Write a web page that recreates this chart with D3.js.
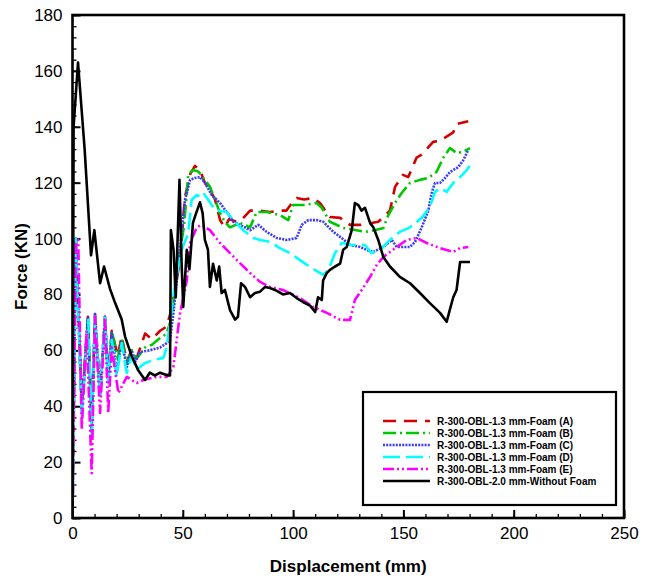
<!DOCTYPE html>
<html><head><meta charset="utf-8">
<script src="https://cdn.jsdelivr.net/npm/d3@7"></script>
<style>body{margin:0;background:#fff}svg{display:block}text{font-family:"Liberation Sans",Arial,sans-serif}</style>
</head><body><svg id="c" width="654" height="580"></svg>
<script>
const xTicks = [0,50,100,150,200,250];
const yTicks = [0,20,40,60,80,100,120,140,160,180];
const seriesNames = ["R-300-OBL-1.3 mm-Foam (A)","R-300-OBL-1.3 mm-Foam (B)","R-300-OBL-1.3 mm-Foam (C)","R-300-OBL-1.3 mm-Foam (D)","R-300-OBL-1.3 mm-Foam (E)","R-300-OBL-2.0 mm-Without Foam"];

const xA = [0,1.5,4.2,7,8.7,10.2,12.5,14.7,16.2,17.8,20.5,22.3,24.6,26.8,29,32.9,36,39.7,42.7,45,48.7,51,53.3,55.5,57.8,60,62.3,64.6,66.9,69,71,74.4,77,80.5,85,89.5,94,97,99.4,101.6,105,109,112.2,116.7,121.3,125.8,130.4,135.6,138.6,143.9,146.2,149.8,152.2,156,158.3,163.5,166.6,172.6,174.1,179.4];
const yA = [0,100,40,72,33,73,45,72,50,67,58,65,56,60,57,66,64,67,68.5,75,92,115,123,126,124.5,120,117.4,114,106.6,104,107,106,107,110,110,109.5,110,110,112.7,114.5,114,114.5,112.7,107.7,107.4,104.9,104.9,105.6,106,110,118.5,122.8,122,129,130,134.6,135,138,141,142];

const xB = [0,1.5,4.2,7,8.7,10.2,12.5,14.7,16.2,17.8,20.5,22.3,24.6,26.8,29,32.9,36,39.7,42.7,45,48.7,50.5,52.5,54.7,57,59,62.3,64.6,66.9,69,71.4,75.9,80.5,83.5,88,94,97.8,100,104.5,110.7,113,116.7,122.7,128.8,132.6,137,140.9,143.2,146.2,149.2,153,157.5,161.3,165,168,171.1,174.1,177,180.2];
const yB = [0,99,38,71,31,72,44,71,49,67,57,64,55,60,57,61,62,64.4,66,72,96,104,123,124.5,124,122,118.5,114,109,106,104,105.6,104,109.5,109.5,108.4,106.6,112,112,112.7,111,106,103.8,103,102.4,103,103.8,108.4,112.7,116.3,119.9,121,121.7,123.8,128.8,132.4,130.6,131,132.4];

const xC = [0,1.5,4.2,7,8.7,10.2,12.5,14.7,16.2,17.8,20,22.3,24.6,26.8,28.5,30.6,35,39.7,42.7,44.2,45.7,48.7,51,53.3,55.5,57.8,60,63.1,66.9,69.9,72.9,75.9,80.5,84.2,88,92.6,97.1,101.6,103.9,106.9,110.7,113.7,118.2,122,125.8,130.4,133.4,136.4,140.9,144.7,147,153,155.3,158.3,161.3,162.8,164.3,166.6,168.9,171.1,174.9,177.2,179.4];
const yC = [0,100,40,72,31,73,44,72,49,66,52,63,54,60,56,59.4,60,61,62.6,63.7,73,96,113.8,121,121.7,122,120,115.6,112.7,109.5,106,104.9,103,104.9,102.4,100.2,99.5,100.2,104.9,106.6,106.6,106,102.4,100.2,97.7,97,95.9,95.2,97,99.5,97,97,98.8,104,110,116.3,119.9,119.9,121.7,123.8,125.6,128.1,131.7];

const xD = [0,1.5,4.2,7.2,8.7,10.2,12.5,14.7,16.2,17.8,20,22.3,24.6,26.8,29,32.9,36.6,41.2,42.7,46.5,49.5,52.5,54,56.3,57.8,59.3,61.6,64.6,69.9,72.9,77.4,82,85,89.5,94,98.6,103.1,107.7,113.7,116,119,122,126.6,132.6,135.6,139.4,143.9,148.4,153,158.3,162,164.3,166.6,169.6,172.6,175.7,178.7,180];
const yD = [0,100,36,70.9,29,72,43.3,71.6,48.3,63.7,50.5,62.6,51.9,58,53,55.5,56.5,57.3,61,84,96,102,113.8,115.6,115,116.3,113.8,110.2,109.5,106.6,103,100.2,99.5,98.8,96.6,94.8,92.3,89.8,87,88.8,94.8,98.4,97.7,97.7,94.8,95.9,99.5,102.4,104,107.4,111.3,116.7,118,116.7,119.9,122,124.5,126];

const xE = [0,1.5,2.6,4.2,6.4,8.7,10.2,12.5,14.7,16.2,17.8,20.8,24.6,29.1,32.1,38.2,42.7,45.7,48.7,51.8,53.3,56.3,58.5,62.3,66.9,71.4,75.9,80.5,85,89.5,95.4,103.1,109.2,115.3,121.3,125.8,128,131.1,134.9,137.9,140.9,147,151.5,156,160.6,166.6,172.6,175.7,179.4];
const yE = [0,98,99.5,31.5,67,16,72,37.6,70.9,37.6,61,44.7,50.5,48.3,49.4,50.5,50.5,54,73,85,98.4,104,104.9,103,98.4,94.8,91.2,87.7,84.5,82.7,81.6,78.7,75.5,73.4,70.9,70.9,78,81.6,86.3,90.5,93.4,97,99.5,100.2,98.4,96.6,95.2,96.6,97];

const xW = [0,0.5,2.5,5.5,8.4,9.9,12.5,14.3,17,19.3,22.3,23.8,26.8,29.7,32.9,35,37.4,39.7,43.3,44.2,44.6,45.8,46.8,48.5,49.5,50.2,51.8,53,54.6,56,56.9,57.8,59,60,61.4,62.3,63.7,65.4,66.5,67.6,69.1,71.4,73.7,75,76.4,78.2,80.5,82.7,85,87.3,89.5,91.8,95.4,98.6,101.6,104.5,107.7,110,111.3,113,113.6,115.3,116.7,119,121.3,122.7,124.3,126.6,128,129.6,131,132.6,134.9,136.4,138.6,140.9,143.9,148.4,153,157.5,162,166.6,169.6,171,172.6,174.1,175.7,180.2];
const yW = [0,140,163,132,94,103,84,90,82,77,71,65,58,53,49.4,52,51,52,51,51,103,96,79,121,90,75.5,96,89,105.6,109,111,113,109,99.5,96,82.7,91,85,90,80.5,81.6,74.4,71,72,84,82.7,79,80.5,81,82.7,82.3,81.6,80,80.5,78.7,77.3,76,73.7,79,78,85,87.7,88.8,90,91,96,97,103,112.7,112,110,111,105.6,104,99.5,93.4,90,86.3,84,80.5,76.9,73.4,70.2,74.4,79,81.6,91.6,91.6];

const colors = ["#d40000","#00c800","#3a3aff","#00ffff","#ff00ff","#000000"];
const dashes = ["13,8","13,4,2,4","2,1.2","17,6","11,3,2,3,2,3",null];

const series = [[xA,yA],[xB,yB],[xC,yC],[xD,yD],[xE,yE],[xW,yW]].map((s,i)=>({
  name: seriesNames[i], color: colors[i], dash: dashes[i],
  pts: s[0].map((x,j)=>[x,s[1][j]])
}));

const L=72.5, R=624, T=15, B=518;
const svg = d3.select("#c");
const x = d3.scaleLinear().domain([0,250]).range([L,R]);
const y = d3.scaleLinear().domain([0,180]).range([B,T]);

svg.append("defs").append("clipPath").attr("id","clip").append("rect")
  .attr("x",L).attr("y",T).attr("width",R-L).attr("height",B-T);

const gx = svg.append("g").attr("transform",`translate(0,${B})`);
gx.call(d3.axisBottom(x).tickValues(d3.range(0,251,10)).tickSize(-4).tickFormat(""))
  .call(g=>g.select(".domain").remove()).selectAll("line").attr("stroke-width",1.3);
const gx2 = svg.append("g").attr("transform",`translate(0,${B})`);
gx2.call(d3.axisBottom(x).tickValues(xTicks).tickSizeInner(-8).tickSizeOuter(0).tickPadding(9))
  .call(g=>g.select(".domain").remove());
gx2.selectAll("line").attr("stroke-width",2);
gx2.selectAll("text").attr("font-size",17).attr("fill","#000");

const gy = svg.append("g").attr("transform",`translate(${L},0)`);
gy.call(d3.axisLeft(y).tickValues(d3.range(0,181,4)).tickSize(-4).tickFormat(""))
  .call(g=>g.select(".domain").remove()).selectAll("line").attr("stroke-width",1.3);
const gy2 = svg.append("g").attr("transform",`translate(${L},0)`);
gy2.call(d3.axisLeft(y).tickValues(yTicks).tickSizeInner(-8).tickSizeOuter(0).tickPadding(10))
  .call(g=>g.select(".domain").remove());
gy2.selectAll("line").attr("stroke-width",2);
gy2.selectAll("text").attr("font-size",17).attr("fill","#000");

const line = d3.line().x(d=>x(d[0])).y(d=>y(d[1]));
const plot = svg.append("g").attr("clip-path","url(#clip)");
series.forEach(s=>{
  plot.append("path").attr("d",line(s.pts)).attr("fill","none")
    .attr("stroke",s.color).attr("stroke-width",2.6)
    .attr("stroke-dasharray",s.dash).attr("stroke-linejoin","round");
});

svg.append("rect").attr("x",L).attr("y",T).attr("width",R-L).attr("height",B-T)
  .attr("fill","none").attr("stroke","#000").attr("stroke-width",2.6);

const lg = svg.append("g");
lg.append("rect").attr("x",363).attr("y",392).attr("width",253).attr("height",113)
  .attr("fill","#fff").attr("stroke","#000").attr("stroke-width",2.2);
series.forEach((s,i)=>{
  const yy = 421 + i*12;
  lg.append("line").attr("x1",383).attr("x2",430).attr("y1",yy).attr("y2",yy)
    .attr("stroke",s.color).attr("stroke-width",2.6).attr("stroke-dasharray",s.dash);
  lg.append("text").attr("x",437).attr("y",yy).attr("dy","0.35em")
    .attr("font-size",10).attr("font-weight","bold").attr("fill","#000").text(s.name);
});

svg.append("text").attr("x",(L+R)/2).attr("y",572).attr("text-anchor","middle")
  .attr("font-size",17).attr("font-weight","bold").text("Displacement (mm)");
svg.append("text").attr("transform",`translate(27,${(T+B)/2}) rotate(-90)`).attr("text-anchor","middle")
  .attr("font-size",17).attr("font-weight","bold").text("Force (KN)");
</script></body></html>
